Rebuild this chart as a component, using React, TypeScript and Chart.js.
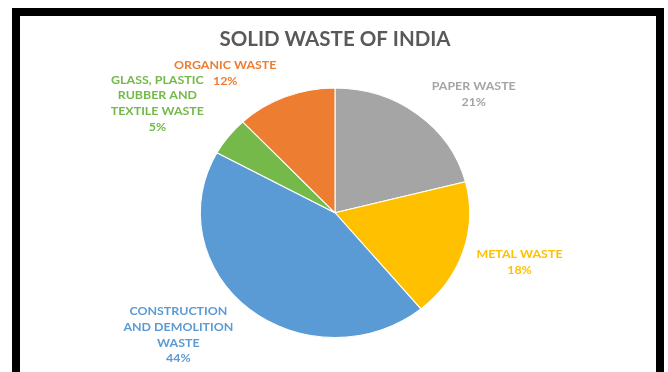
import React, { useEffect, useRef } from "react";
import { Chart, registerables } from "chart.js";

Chart.register(...registerables);

// ---- data ----
const chartTitle = "SOLID WASTE OF INDIA";
const categories = [
  "PAPER WASTE",
  "METAL WASTE",
  "CONSTRUCTION AND DEMOLITION WASTE",
  "GLASS, PLASTIC RUBBER AND TEXTILE WASTE",
  "ORGANIC WASTE",
];
const labelLines = [
  ["PAPER WASTE"],
  ["METAL WASTE"],
  ["CONSTRUCTION", "AND DEMOLITION", "WASTE"],
  ["GLASS, PLASTIC", "RUBBER AND", "TEXTILE WASTE"],
  ["ORGANIC WASTE"],
];
const values = [21, 18, 44, 5, 12];
const sliceColors = ["#A5A5A5", "#FFC000", "#5B9BD5", "#74B94A", "#ED7D31"];

// ---- styling / layout ----
const X_STRETCH = 135 / 125;
// label block centre, relative to pie centre, in units of the radius
const labelPlacement = [
  [1.03, -0.952],
  [1.37, 0.4],
  [-1.163, 0.98],
  [-1.319, -0.876],
  [-0.815, -1.116],
];

const piePlugin = {
  id: "pieStretchAndLabels",
  beforeDatasetsDraw(chart: any) {
    const arc = chart.getDatasetMeta(0).data[0];
    if (!arc) return;
    const { x, y } = arc;
    const ctx = chart.ctx;
    ctx.save();
    ctx.translate(x, y);
    ctx.scale(X_STRETCH, 1);
    ctx.translate(-x, -y);
  },
  afterDatasetsDraw(chart: any) {
    const ctx = chart.ctx;
    ctx.restore();
    const meta = chart.getDatasetMeta(0);
    const data = chart.data.datasets[0].data as number[];
    const total = data.reduce((a, b) => a + b, 0);
    meta.data.forEach((arc: any, i: number) => {
      const r = arc.outerRadius;
      const [fx, fy] = labelPlacement[i];
      const bx = arc.x + fx * r * X_STRETCH;
      const by = arc.y + fy * r;
      const lines = [...labelLines[i], Math.round((data[i] / total) * 100) + "%"];
      const lh = 15.8;
      ctx.save();
      ctx.fillStyle = sliceColors[i];
      ctx.font = "bold 11.5px Lato";
      ctx.textAlign = "center";
      ctx.textBaseline = "middle";
      lines.forEach((line, j) => {
        const ly = by + (j - (lines.length - 1) / 2) * lh;
        ctx.save();
        ctx.translate(bx, ly);
        ctx.scale(X_STRETCH, 1);
        ctx.fillText(line, 0, 0);
        ctx.restore();
      });
      ctx.restore();
    });
  },
};

export default function App() {
  const canvasRef = useRef<HTMLCanvasElement | null>(null);

  useEffect(() => {
    if (!canvasRef.current) return;
    const chart = new Chart(canvasRef.current, {
      type: "pie",
      data: {
        labels: categories,
        datasets: [
          {
            data: values,
            backgroundColor: sliceColors,
            borderColor: "#FFFFFF",
            borderWidth: 1,
          },
        ],
      },
      options: {
        responsive: false,
        animation: false,
        devicePixelRatio: 1,
        layout: { padding: { top: 0, bottom: 34, left: 2, right: 0 } },
        plugins: {
          legend: { display: false },
          tooltip: { enabled: false },
          title: {
            display: true,
            text: chartTitle,
            color: "#595959",
            font: { family: "Lato", size: 20.5, weight: "bold" },
            padding: { top: 27, bottom: 36 },
          },
        },
      },
      plugins: [piePlugin],
    });
    return () => chart.destroy();
  }, []);

  return (
    <div style={{ position: "absolute", left: 0, top: 0, width: 668, height: 372, background: "#fff", overflow: "hidden" }}>
      <div
        style={{
          position: "absolute",
          left: 12,
          top: 8,
          width: 652,
          height: 364,
          boxSizing: "border-box",
          border: "8px solid #000",
          borderBottom: "none",
          background: "#fff",
        }}
      />
      <canvas
        ref={canvasRef}
        width={668}
        height={372}
        style={{ position: "absolute", left: 0, top: 0, width: 668, height: 372 }}
      />
    </div>
  );
}
